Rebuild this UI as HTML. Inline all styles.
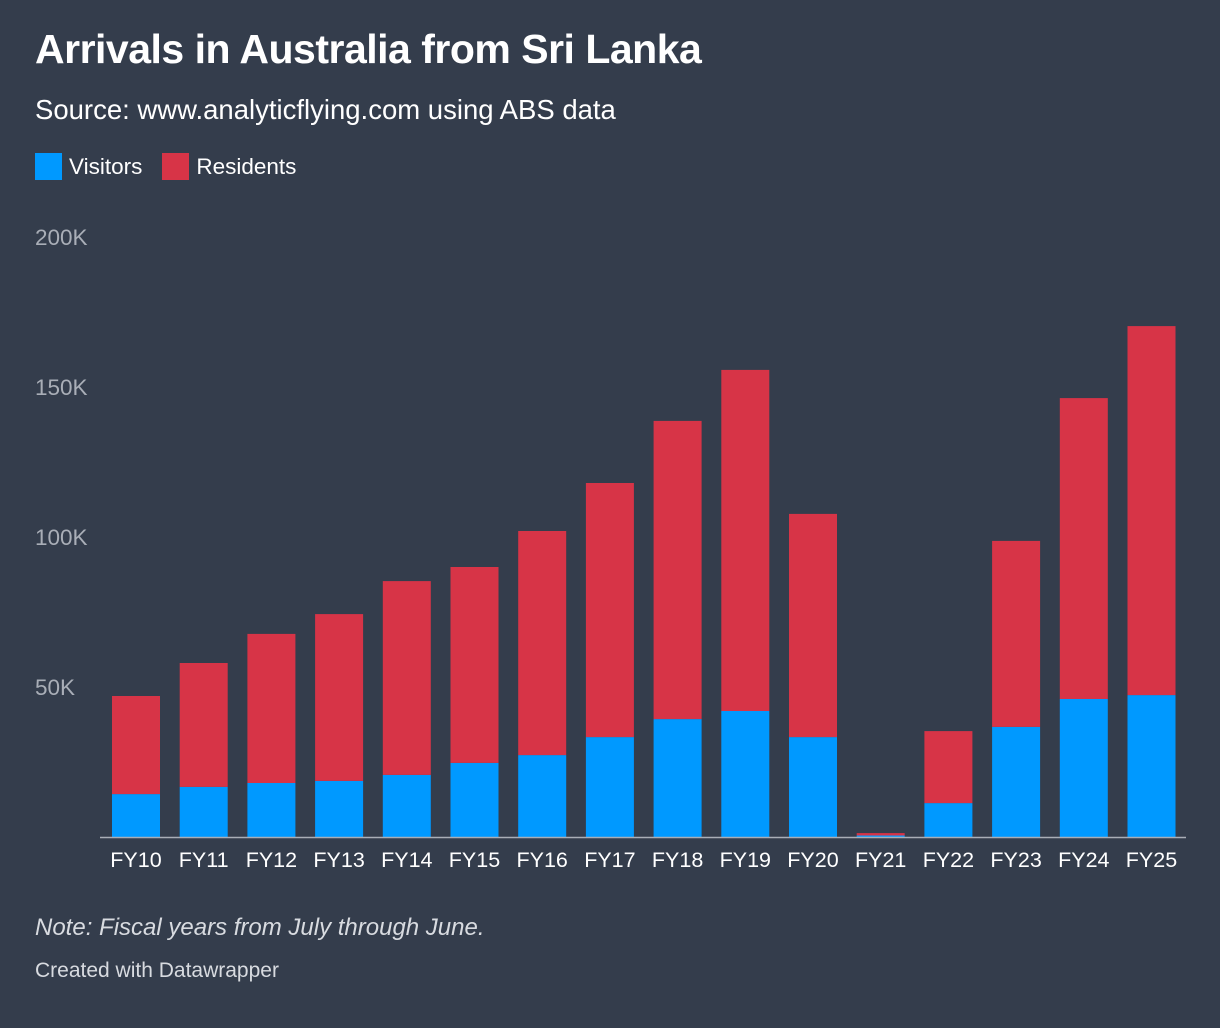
<!DOCTYPE html>
<html><head><meta charset="utf-8">
<style>
body{margin:0;width:1220px;height:1028px;background:#343d4c;font-family:"Liberation Sans",Arial,sans-serif;color:#fff;overflow:hidden;position:relative}
.t{position:absolute;left:35px}
</style></head>
<body>
<div class="t" style="top:26px;font-size:41px;font-weight:bold;letter-spacing:-0.5px">Arrivals in Australia from Sri Lanka</div>
<div class="t" style="top:94px;font-size:27.5px">Source: www.analyticflying.com using ABS data</div>
<div class="t" style="top:153px;font-size:22.5px;display:flex;align-items:center">
 <span style="display:flex;align-items:center"><span style="width:27px;height:27px;background:#0099ff;display:inline-block;margin-right:7px"></span>Visitors</span>
 <span style="display:flex;align-items:center;margin-left:20px"><span style="width:27px;height:27px;background:#d73447;display:inline-block;margin-right:7px"></span>Residents</span>
</div>
<svg id="c" width="1220" height="1028" style="position:absolute;left:0;top:0"></svg>
<div class="t" style="top:914px;font-size:24px;font-style:italic;color:#d8dbe0">Note: Fiscal years from July through June.</div>
<div class="t" style="top:959px;font-size:21px;color:#d8dbe0">Created with Datawrapper</div>
<script>
const categories=["FY10","FY11","FY12","FY13","FY14","FY15","FY16","FY17","FY18","FY19","FY20","FY21","FY22","FY23","FY24","FY25"];
const visitors=[14.3,16.7,18,18.7,20.7,24.7,27.3,33.3,39.3,42,33.3,0.5,11.3,36.7,46,47.3];
const residents=[32.7,41.3,49.7,55.6,64.6,65.3,74.7,84.7,99.4,113.7,74.4,0.8,24,62,100.3,123];
const ticks=[50,100,150,200];
const tickLabels=["50K","100K","150K","200K"];
const svg=document.getElementById('c');const NS="http://www.w3.org/2000/svg";
const y0=837,pxPerK=3;
const y=v=>y0-v*pxPerK;
const x=i=>112+i*67.7;
const bw=48;
function mk(t,a){const e=document.createElementNS(NS,t);for(const k in a)e.setAttribute(k,a[k]);svg.appendChild(e);return e;}
ticks.forEach((t,i)=>{const e=mk('text',{x:35,y:y(t)+8,fill:'#a9aeb7','font-size':22.5});e.textContent=tickLabels[i];

});
categories.forEach((c,i)=>{
 const b=mk('rect',{x:x(i),y:y(visitors[i]),width:bw,height:visitors[i]*pxPerK,fill:'#0099ff'});
 
 
 const r=mk('rect',{x:x(i),y:y(visitors[i]+residents[i]),width:bw,height:residents[i]*pxPerK,fill:'#d73447'});
 
 
 const l=mk('text',{x:x(i)+bw/2,y:867,fill:'#fff','font-size':21.5,'text-anchor':'middle'});l.textContent=c;
 
 
});
const ax=mk('line',{x1:100,x2:1186,y1:y0+0.5,y2:y0+0.5,stroke:'#a9aeb7','stroke-width':1.5});


</script>
</body></html>
